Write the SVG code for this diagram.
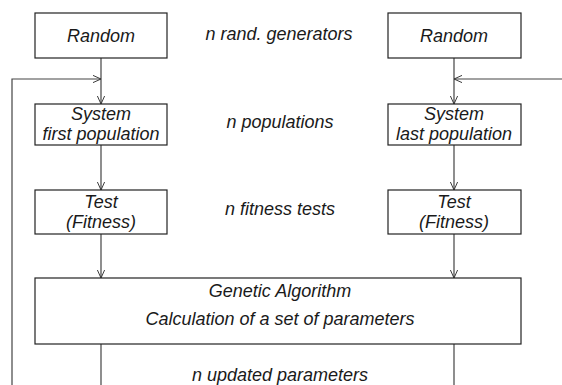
<svg xmlns="http://www.w3.org/2000/svg" width="562" height="385" viewBox="0 0 562 385">
<defs>
<marker id="arr" viewBox="0 0 10 10" refX="10" refY="5" markerWidth="8" markerHeight="8" markerUnits="userSpaceOnUse" orient="auto">
<path d="M0,0.5 L10,5 L0,9.5" fill="none" stroke="#333" stroke-width="1.2"/>
</marker>
<style>
.box{fill:#fff;stroke:#222;stroke-width:1.2}
.t{font-family:"Liberation Sans",Arial,sans-serif;font-style:italic;font-size:18px;fill:#1a1a1a;text-anchor:middle}
.c{fill:none;stroke:#444;stroke-width:1.2}
</style>
</defs>
<rect width="562" height="385" fill="#fff"/>
<g id="connectors">
<line class="c" x1="101" y1="58" x2="101" y2="104" marker-end="url(#arr)"/>
<polyline class="c" points="12,385 12,79 101,79" marker-end="url(#arr)"/>
<line class="c" x1="454" y1="58" x2="454" y2="104" marker-end="url(#arr)"/>
<line class="c" x1="562" y1="79" x2="454" y2="79" marker-end="url(#arr)"/>
<line class="c" x1="101" y1="145" x2="101" y2="190" marker-end="url(#arr)"/>
<line class="c" x1="454" y1="145" x2="454" y2="190" marker-end="url(#arr)"/>
<line class="c" x1="101" y1="234" x2="101" y2="278" marker-end="url(#arr)"/>
<line class="c" x1="454" y1="234" x2="454" y2="278" marker-end="url(#arr)"/>
<line class="c" x1="101" y1="344" x2="101" y2="385"/>
<line class="c" x1="454" y1="344" x2="454" y2="385"/>
</g>
<g id="random-left">
<rect class="box" x="35" y="13" width="132" height="45"/>
<text class="t" x="101" y="42">Random</text>
</g>
<g id="random-right">
<rect class="box" x="388" y="13" width="133" height="45"/>
<text class="t" x="454" y="42">Random</text>
</g>
<g id="system-left">
<rect class="box" x="35" y="104" width="132" height="41"/>
<text class="t" x="101" y="119.5">System</text>
<text class="t" x="101" y="140">first population</text>
</g>
<g id="system-right">
<rect class="box" x="388" y="104" width="133" height="41"/>
<text class="t" x="454" y="119.5">System</text>
<text class="t" x="454" y="140">last population</text>
</g>
<g id="test-left">
<rect class="box" x="35" y="190" width="132" height="44"/>
<text class="t" x="101" y="208">Test</text>
<text class="t" x="101" y="228">(Fitness)</text>
</g>
<g id="test-right">
<rect class="box" x="388" y="190" width="133" height="44"/>
<text class="t" x="454" y="208">Test</text>
<text class="t" x="454" y="228">(Fitness)</text>
</g>
<g id="ga">
<rect class="box" x="35" y="278" width="486" height="66"/>
<text class="t" x="280" y="297">Genetic Algorithm</text>
<text class="t" x="280" y="325">Calculation of a set of parameters</text>
</g>
<g id="labels">
<text class="t" x="279" y="40">n rand. generators</text>
<text class="t" x="280" y="128">n populations</text>
<text class="t" x="280" y="215">n fitness tests</text>
<text class="t" x="280" y="381">n updated parameters</text>
</g>
</svg>
